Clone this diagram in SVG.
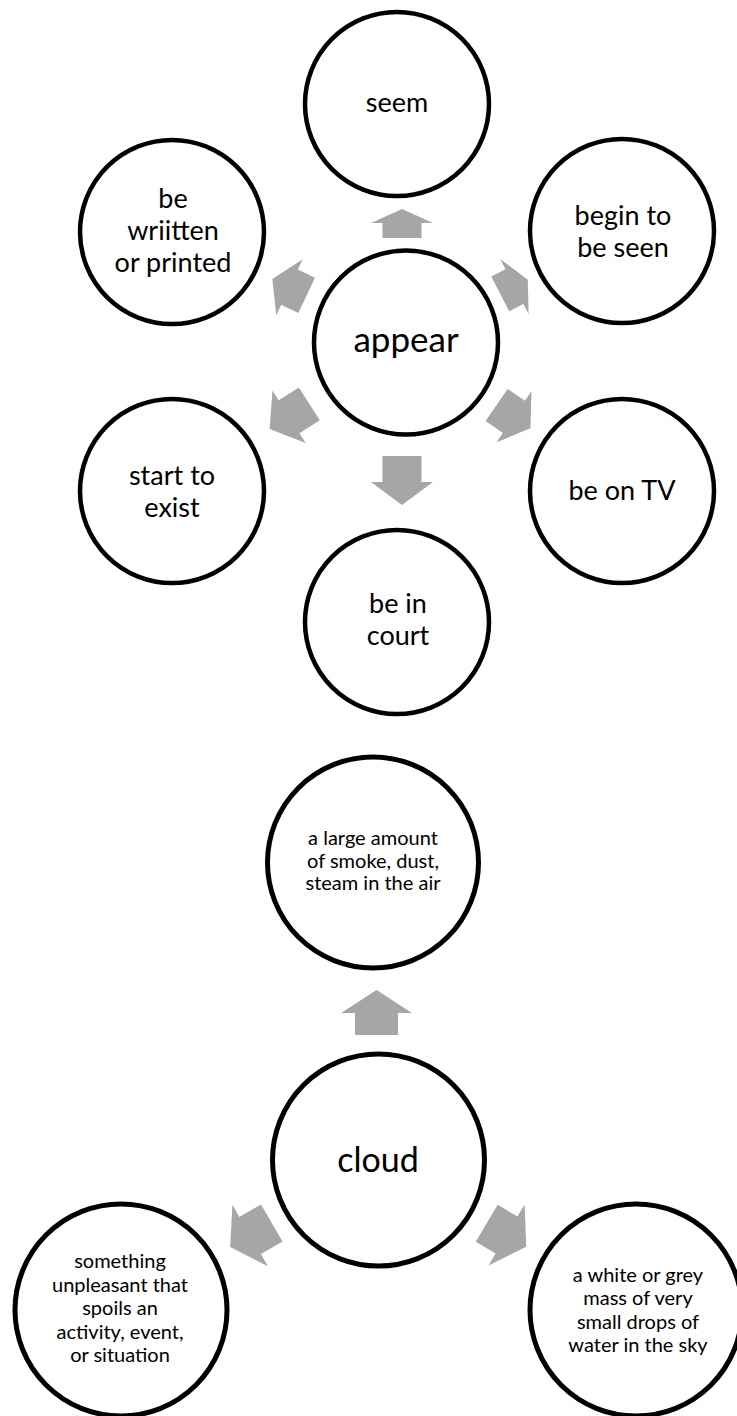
<svg xmlns="http://www.w3.org/2000/svg" width="737" height="1416" viewBox="0 0 737 1416">
  <style>
    .node { fill: #ffffff; stroke: #000000; }
    .n1 { stroke-width: 4.5; }
    .n2 { stroke-width: 5; }
    .arrow { fill: #a6a6a6; stroke: none; }
    text { font-family: Lato, "Open Sans", "Liberation Sans", sans-serif; fill: #000000; text-anchor: middle; }
    .t-main { font-size: 35px; }
    .t-sat { font-size: 27px; }
    .t-cloud { font-size: 34px; }
    .t-small { font-size: 20px; }
  </style>

  <!-- block arrows from each hub to its satellites -->
  <g id="connectors">
    <!-- appear hub: width 62, shaft 39 -->
    <polygon class="arrow" transform="translate(402 223.5) rotate(-90)" points="-14.5,-19.5 0.5,-19.5 0.5,-31 14.5,0 0.5,31 0.5,19.5 -14.5,19.5"/>
    <polygon class="arrow" transform="translate(514 286.8) rotate(-27.3)" points="-15.5,-19.5 0.5,-19.5 0.5,-31 15.5,0 0.5,31 0.5,19.5 -15.5,19.5"/>
    <polygon class="arrow" transform="translate(513.5 416.6) rotate(34.5)" points="-20.5,-19.5 0.5,-19.5 0.5,-31 20.5,0 0.5,31 0.5,19.5 -20.5,19.5"/>
    <polygon class="arrow" transform="translate(402 480.5) rotate(90)" points="-24.5,-19.5 1.5,-19.5 1.5,-31 24.5,0 1.5,31 1.5,19.5 -24.5,19.5"/>
    <polygon class="arrow" transform="translate(289.5 416.5) rotate(147.6)" points="-23.5,-19.5 0.5,-19.5 0.5,-31 23.5,0 0.5,31 0.5,19.5 -23.5,19.5"/>
    <polygon class="arrow" transform="translate(289.5 287.2) rotate(205.3)" points="-19,-19.5 0,-19.5 0,-31 19,0 0,31 0,19.5 -19,19.5"/>
    <!-- cloud hub: width 71, shaft 43 -->
    <polygon class="arrow" transform="translate(376.5 1012.5) rotate(-90)" points="-22.5,-21.5 -0.5,-21.5 -0.5,-35.5 22.5,0 -0.5,35.5 -0.5,21.5 -22.5,21.5"/>
    <polygon class="arrow" transform="translate(251 1235) rotate(150)" points="-24,-21.5 1,-21.5 1,-35.5 24,0 1,35.5 1,21.5 -24,21.5"/>
    <polygon class="arrow" transform="translate(506.5 1235) rotate(30.5)" points="-23,-21.5 0,-21.5 0,-35.5 23,0 0,35.5 0,21.5 -23,21.5"/>
  </g>

  <!-- appear hub and satellites -->
  <g id="seem">
    <circle class="node n1" cx="397" cy="104" r="92"/>
    <text class="t-sat" x="397" y="112">seem</text>
  </g>
  <g id="begin-to-be-seen">
    <circle class="node n1" cx="622" cy="231" r="92"/>
    <text class="t-sat" x="623" y="225">begin to</text>
    <text class="t-sat" x="623" y="257">be seen</text>
  </g>
  <g id="be-written">
    <circle class="node n1" cx="172" cy="232" r="92"/>
    <text class="t-sat" x="173" y="208">be</text>
    <text class="t-sat" x="173" y="240">wriitten</text>
    <text class="t-sat" x="173" y="272">or printed</text>
  </g>
  <g id="appear">
    <circle class="node n1" cx="406" cy="342.5" r="92"/>
    <text class="t-main" x="406" y="352">appear</text>
  </g>
  <g id="start-to-exist">
    <circle class="node n1" cx="172" cy="491" r="92"/>
    <text class="t-sat" x="172" y="485">start to</text>
    <text class="t-sat" x="172" y="517">exist</text>
  </g>
  <g id="be-on-tv">
    <circle class="node n1" cx="622" cy="491" r="92"/>
    <text class="t-sat" x="622" y="500">be on TV</text>
  </g>
  <g id="be-in-court">
    <circle class="node n1" cx="397" cy="622" r="92"/>
    <text class="t-sat" x="398" y="613">be in</text>
    <text class="t-sat" x="398" y="645">court</text>
  </g>

  <!-- cloud hub and satellites -->
  <g id="large-amount">
    <circle class="node n2" cx="373" cy="862.5" r="105.5"/>
    <text class="t-small" x="373" y="845">a large amount</text>
    <text class="t-small" x="373" y="867.5">of smoke, dust,</text>
    <text class="t-small" x="373" y="890">steam in the air</text>
  </g>
  <g id="cloud">
    <circle class="node n2" cx="378.5" cy="1160" r="106"/>
    <text class="t-cloud" x="378" y="1172">cloud</text>
  </g>
  <g id="something-unpleasant">
    <circle class="node n2" cx="121" cy="1310" r="106"/>
    <text class="t-small" x="120" y="1268">something</text>
    <text class="t-small" x="120" y="1291.5">unpleasant that</text>
    <text class="t-small" x="120" y="1315">spoils an</text>
    <text class="t-small" x="120" y="1338.5">activity, event,</text>
    <text class="t-small" x="120" y="1362">or situation</text>
  </g>
  <g id="white-or-grey-mass">
    <circle class="node n2" cx="636" cy="1310" r="106"/>
    <text class="t-small" x="638" y="1282">a white or grey</text>
    <text class="t-small" x="638" y="1305.3">mass of very</text>
    <text class="t-small" x="638" y="1328.7">small drops of</text>
    <text class="t-small" x="638" y="1352">water in the sky</text>
  </g>
</svg>
